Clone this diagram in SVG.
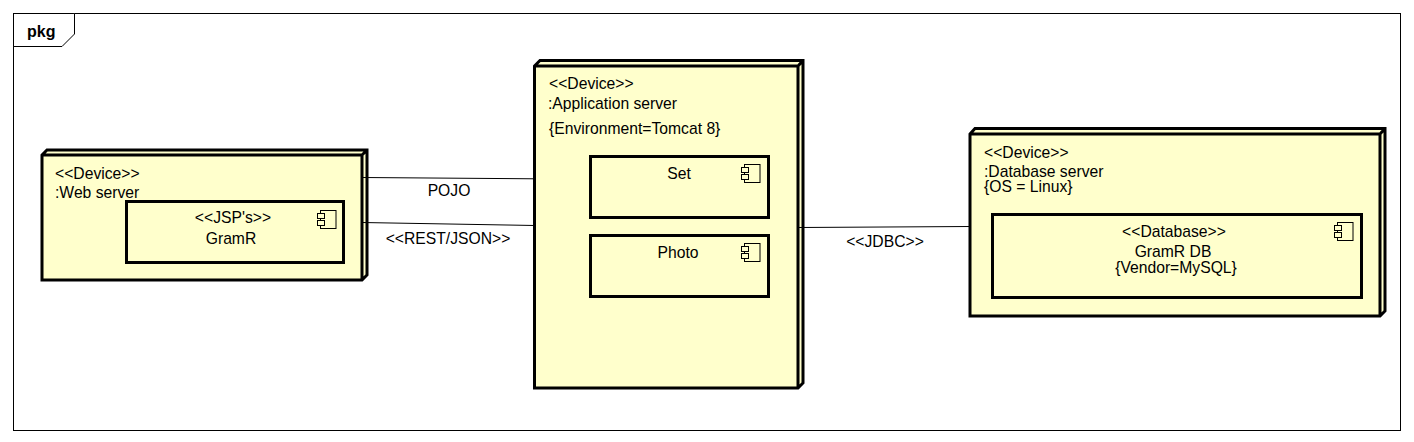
<svg xmlns="http://www.w3.org/2000/svg" width="1414" height="442" viewBox="0 0 1414 442">
<defs>
<style>
text{font-family:"Liberation Sans",Arial,sans-serif;font-size:15.7px;fill:#000}
.m{text-anchor:middle}
.node{fill:#ffffcc;stroke:#000;stroke-width:3}
.comp{fill:#ffffcc;stroke:#000;stroke-width:3}
.ic{fill:#ffffcc;stroke:#000;stroke-width:1}
.conn{stroke:#000;stroke-width:1;fill:none}
</style>
<g id="icon"><rect class="ic" x="3.500" y="0.500" width="15.500" height="18"/><rect class="ic" x="0.500" y="3.500" width="7" height="5"/><rect class="ic" x="0.500" y="10.500" width="7" height="5"/></g>
</defs>
<rect width="1414" height="442" fill="#fff"/>
<g id="frame">
<rect x="13.500" y="13.500" width="1387" height="417" fill="#fff" stroke="#000"/>
<path d="M13.500 46.500H62L74.500 34V13.500" fill="#fff" stroke="#000"/>
<text x="27" y="37" style="font-weight:bold;font-size:16px">pkg</text>
</g>
<g id="web-server">
<path class="node" d="M42 155L47 150H367V275L362 280H42ZM362 280V155L367 150M362 155H42"/>
<text x="55" y="179">&lt;&lt;Device&gt;&gt;</text>
<text x="55" y="198">:Web server</text>
<g id="gramr">
<rect class="comp" x="126.500" y="201.500" width="217" height="61"/>
<text class="m" x="233" y="223">&lt;&lt;JSP's&gt;&gt;</text>
<text class="m" x="231" y="244">GramR</text>
<use href="#icon" x="317" y="210"/>
</g>
</g>
<g id="application-server">
<path class="node" d="M534.500 66L540 60.500H803V383L798 388H534.500ZM798 388V66L803 60.500M798 66H534.500"/>
<text x="549" y="89">&lt;&lt;Device&gt;&gt;</text>
<text x="548" y="109">:Application server</text>
<text x="549" y="134">{Environment=Tomcat 8}</text>
<g id="set">
<rect class="comp" x="590.500" y="156.500" width="178" height="61"/>
<text class="m" x="679" y="179">Set</text>
<use href="#icon" x="741" y="164"/>
</g>
<g id="photo">
<rect class="comp" x="590.500" y="235.500" width="178" height="61"/>
<text class="m" x="678" y="258">Photo</text>
<use href="#icon" x="741" y="243"/>
</g>
</g>
<g id="database-server">
<path class="node" d="M970 134L975 128.500H1385V311L1380 316H970ZM1380 316V134L1385 128.500M1380 134H970"/>
<text x="984" y="158">&lt;&lt;Device&gt;&gt;</text>
<text x="984" y="177">:Database server</text>
<text x="984" y="192">{OS = Linux}</text>
<g id="gramr-db">
<rect class="comp" x="992.500" y="214.500" width="369" height="83"/>
<text class="m" x="1174" y="237">&lt;&lt;Database&gt;&gt;</text>
<text class="m" x="1173" y="257">GramR DB</text>
<text class="m" x="1176" y="273">{Vendor=MySQL}</text>
<use href="#icon" x="1334" y="222"/>
</g>
</g>
<g id="connectors">
<path class="conn" d="M362 177.500L535 178.800"/>
<path class="conn" d="M362 222.500L535 225.500"/>
<path class="conn" d="M798 227.500L971 226.500"/>
<text class="m" x="449" y="196">POJO</text>
<text class="m" x="448" y="244">&lt;&lt;REST/JSON&gt;&gt;</text>
<text class="m" x="885" y="247">&lt;&lt;JDBC&gt;&gt;</text>
</g>
</svg>
